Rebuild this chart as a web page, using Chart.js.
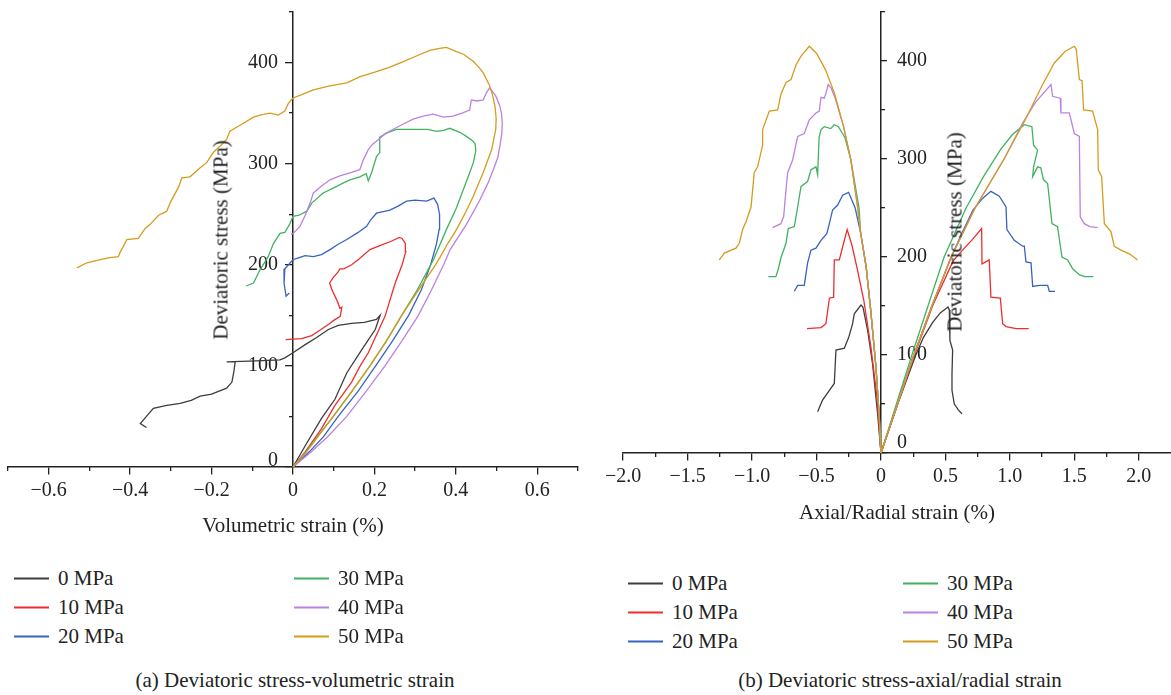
<!DOCTYPE html>
<html>
<head>
<meta charset="utf-8">
<script src="https://cdn.jsdelivr.net/npm/chart.js@4.4.0/dist/chart.umd.min.js"></script>
<style>
  body { margin: 0; background: #fff; font-family: "Liberation Serif", serif; color: #222; }
  #wrap { position: relative; width: 1171px; height: 695px; overflow: hidden; }
  canvas { position: absolute; top: 0; }
  .txt { position: absolute; white-space: nowrap; font-size: 21px; line-height: 1; transform: translate(-50%, -50%); }
  .rot { transform: translate(-50%, -50%) rotate(-90deg); }
  .leg { position: absolute; display: flex; align-items: center; font-size: 21px; line-height: 1; white-space: nowrap; transform: translateY(-50%); }
  .leg .ln { display: inline-block; width: 35px; height: 2px; margin-right: 9px; }
</style>
</head>
<body>
<div id="wrap">
  <canvas id="chartA" width="590" height="540" style="left:0"></canvas>
  <canvas id="chartB" width="571" height="540" style="left:600px"></canvas>

  <div class="txt rot" style="left:221px; top:240px">Deviatoric stress (MPa)</div>
  <div class="txt" style="left:293px; top:525px">Volumetric strain (%)</div>
  <div class="txt" style="left:295px; top:680px">(a) Deviatoric stress-volumetric strain</div>

  <div class="txt rot" style="left:955px; top:232px">Deviatoric stress (MPa)</div>
  <div class="txt" style="left:897px; top:512px">Axial/Radial strain (%)</div>
  <div class="txt" style="left:900px; top:680px">(b) Deviatoric stress-axial/radial strain</div>
</div>
<script>
// series names and colours
const pressures = ['0 MPa', '10 MPa', '20 MPa', '30 MPa', '40 MPa', '50 MPa'];
const colors = ['#3d3d3d', '#ee2e2e', '#3663c3', '#40b260', '#ba82e2', '#d69b1c'];

// tick values / labels
const xTicksA = [-0.6, -0.4, -0.2, 0, 0.2, 0.4, 0.6];
const xTickLabelsA = ['−0.6', '−0.4', '−0.2', '0', '0.2', '0.4', '0.6'];
const xMinorA = [-0.7, -0.5, -0.3, -0.1, 0.1, 0.3, 0.5, 0.7];
const xTicksB = [-2, -1.5, -1, -0.5, 0, 0.5, 1, 1.5, 2];
const xTickLabelsB = ['−2.0', '−1.5', '−1.0', '−0.5', '0', '0.5', '1.0', '1.5', '2.0'];
const xMinorB = [-1.75, -1.25, -0.75, -0.25, 0.25, 0.75, 1.25, 1.75];
const yTicks = [0, 100, 200, 300, 400];
const yTickLabels = ['0', '100', '200', '300', '400'];
const yMinor = [50, 150, 250, 350, 450];

// (a) volumetric strain (%) vs deviatoric stress (MPa)
const vol0 = [[0,0],[0.03,21],[0.07,48],[0.103,67],[0.132,93],[0.169,116],[0.202,136],[0.214,150],
  [0.205,146],[0.175,143],[0.144,142],[0.111,140],[0.087,136],[0.058,128],[0.03,121],[0,113],[-0.02,108],[-0.032,106],[-0.09,105],
  [-0.163,104],[-0.142,104],[-0.145,95],[-0.15,84],[-0.163,78],[-0.2,72],[-0.228,70],[-0.25,66],[-0.277,63],[-0.31,61],[-0.343,58],
  [-0.36,50],[-0.375,43],[-0.36,39]];
const vol10 = [[0,0],[0.03,15],[0.07,38],[0.103,61],[0.144,84],[0.165,100],[0.185,113],[0.226,149],[0.251,182],[0.268,200],
  [0.277,213],[0.276,221],[0.268,226],[0.261,227],[0.24,223],[0.213,219],[0.189,215],[0.16,205],[0.144,200],[0.125,196],[0.115,196],
  [0.111,193],[0.1,188],[0.09,182],[0.095,176],[0.103,169],[0.11,163],[0.115,157],[0.12,158],[0.116,149],[0.1,145],[0.087,141],
  [0.065,135],[0.046,130],[0.021,127],[-0.018,126]];
const vol20 = [[0,0],[0.04,15],[0.075,30],[0.111,50],[0.16,75],[0.203,100],[0.245,125],[0.284,150],[0.315,175],[0.338,200],
  [0.352,220],[0.359,235],[0.36,250],[0.355,260],[0.346,266],[0.328,263],[0.3,264],[0.279,263],[0.258,258],[0.238,254],
  [0.205,251],[0.19,244],[0.181,238],[0.16,232],[0.132,225],[0.11,220],[0.091,215],[0.07,210],[0.05,208],[0.03,209],[0.015,207],
  [0,205],[-0.02,196],[-0.022,188],[-0.022,182],[-0.017,169],[-0.009,172]];
const vol30 = [[0,0],[0.03,14],[0.06,30],[0.099,50],[0.145,75],[0.189,100],[0.23,125],[0.267,150],[0.305,175],[0.345,205],
  [0.377,235],[0.4,255],[0.418,274],[0.433,290],[0.443,301],[0.449,313],[0.447,320],[0.44,323],[0.426,327],[0.41,331],[0.385,335],
  [0.37,333],[0.353,332],[0.33,334],[0.29,334],[0.254,334],[0.228,330],[0.213,326],[0.213,311],[0.205,307],[0.193,291],[0.185,283],
  [0.18,290],[0.164,287],[0.14,284],[0.124,281],[0.1,276],[0.074,271],[0.046,261],[0.034,253],[0.015,249],[0,248],[-0.007,241],
  [-0.02,232],[-0.032,231],[-0.048,221],[-0.061,208],[-0.081,195],[-0.097,182],[-0.115,179]];
const vol40 = [[0,0],[0.045,15],[0.085,30],[0.132,50],[0.18,75],[0.226,100],[0.268,125],[0.308,150],[0.34,175],[0.37,200],
  [0.386,215],[0.426,240],[0.459,264],[0.478,280],[0.492,294],[0.503,306],[0.508,317],[0.513,330],[0.514,340],[0.512,350],[0.508,357],
  [0.498,367],[0.483,375],[0.475,370],[0.467,363],[0.452,362],[0.438,363],[0.434,353],[0.415,350],[0.393,347],[0.37,346],[0.344,349],
  [0.32,347],[0.295,344],[0.27,339],[0.246,334],[0.228,330],[0.213,325],[0.195,319],[0.185,314],[0.173,304],[0.164,294],[0.14,291],
  [0.115,288],[0.091,284],[0.07,278],[0.05,271],[0.042,261],[0.029,248],[0.017,238],[0.008,234],[0,231],[-0.005,230]];
const vol50 = [[0,0],[0.035,16],[0.065,32],[0.099,50],[0.145,75],[0.189,100],[0.23,125],[0.267,150],[0.3,170],[0.325,185],
  [0.35,200],[0.365,210],[0.38,221],[0.402,235],[0.424,252],[0.443,268],[0.467,291],[0.488,314],[0.498,334],[0.499,345],[0.496,357],
  [0.49,368],[0.483,377],[0.467,390],[0.455,396],[0.443,401],[0.42,408],[0.4,411],[0.377,415],[0.36,414],[0.336,412],[0.3,406],
  [0.271,401],[0.235,395],[0.197,390],[0.165,386],[0.132,380],[0.09,377],[0.05,373],[0.02,368],[0,365],[-0.011,360],[-0.02,352],
  [-0.036,348],[-0.056,350],[-0.081,348],[-0.097,346],[-0.126,339],[-0.155,332],[-0.163,324],[-0.18,317],[-0.196,311],[-0.212,301],
  [-0.228,296],[-0.253,287],[-0.273,286],[-0.281,277],[-0.302,261],[-0.31,253],[-0.33,249],[-0.351,240],[-0.363,236],[-0.38,226],
  [-0.408,225],[-0.425,212],[-0.429,208],[-0.45,207],[-0.474,205],[-0.506,202],[-0.531,197]];

// (b) axial strain (%, positive side) vs deviatoric stress
const axial0 = [[0,0],[0.13,50],[0.27,100],[0.33,118],[0.4,133],[0.46,143],[0.52,149],[0.53,146],[0.535,115],[0.556,105],
  [0.551,80],[0.551,64],[0.569,50],[0.6,44],[0.628,40]];
const axial10 = [[0,0],[0.13,50],[0.26,100],[0.4,150],[0.56,196],[0.64,208],[0.71,218],[0.781,229],[0.784,193],[0.84,197],
  [0.853,159],[0.926,158],[0.944,132],[0.97,129],[1.05,127],[1.146,127]];
const axial20 = [[0,0],[0.128,50],[0.255,100],[0.395,150],[0.545,200],[0.63,225],[0.715,248],[0.79,260],[0.853,267],[0.918,262],
  [0.97,251],[0.977,228],[1.034,217],[1.1,211],[1.112,211],[1.125,195],[1.164,194],[1.177,170],[1.23,171],[1.293,171],[1.306,165],[1.35,165]];
const axial30 = [[0,0],[0.12,50],[0.24,100],[0.365,150],[0.49,200],[0.66,250],[0.8,283],[0.93,310],[1.02,325],[1.112,335],
  [1.171,333],[1.184,314],[1.215,309],[1.184,292],[1.177,282],[1.215,292],[1.24,291],[1.26,279],[1.293,275],[1.327,234],[1.37,231],
  [1.404,200],[1.448,197],[1.487,188],[1.539,182],[1.58,180],[1.647,180]];
const axial40 = [[0,0],[0.128,50],[0.255,100],[0.395,150],[0.545,200],[0.73,250],[0.955,300],[1.1,337],[1.2,358],[1.319,376],
  [1.332,364],[1.391,362],[1.396,347],[1.461,347],[1.5,326],[1.539,323],[1.546,241],[1.577,234],[1.62,231],[1.681,230]];
const axial50 = [[0,0],[0.128,50],[0.255,100],[0.395,150],[0.545,200],[0.73,250],[0.955,300],[1.12,340],[1.25,375],[1.345,398],
  [1.43,410],[1.5,415],[1.515,412],[1.539,381],[1.56,380],[1.572,350],[1.642,349],[1.681,330],[1.686,289],[1.712,282],[1.733,234],
  [1.784,226],[1.81,211],[1.862,207],[1.93,203],[1.99,197]];

// (b) radial strain (%, negative side) vs deviatoric stress
const radial0 = [[0,0],[-0.026,40],[-0.065,91],[-0.103,125],[-0.14,149],[-0.155,151],[-0.207,142],[-0.22,132],[-0.25,118],
  [-0.284,107],[-0.349,105],[-0.362,71],[-0.4,64],[-0.453,54],[-0.491,42]];
const radial10 = [[0,0],[-0.031,57],[-0.078,108],[-0.132,155],[-0.184,188],[-0.225,212],[-0.262,228],[-0.29,214],[-0.323,197],
  [-0.362,197],[-0.367,159],[-0.4,158],[-0.427,132],[-0.465,128],[-0.574,127]];
const radial20 = [[0,0],[-0.013,37],[-0.039,88],[-0.079,145],[-0.115,190],[-0.158,225],[-0.2,250],[-0.251,266],
  [-0.297,263],[-0.336,253],[-0.375,248],[-0.419,224],[-0.465,217],[-0.504,209],[-0.543,207],[-0.569,194],[-0.595,171],[-0.646,171],[-0.672,165]];
const radial30 = [[0,0],[-0.013,37],[-0.039,88],[-0.079,145],[-0.115,190],[-0.158,225],[-0.17,250],[-0.235,300],[-0.28,322],
  [-0.33,333],[-0.362,335],[-0.39,331],[-0.44,333],[-0.465,330],[-0.48,322],[-0.491,284],[-0.504,292],[-0.543,289],[-0.569,277],[-0.62,272],
  [-0.646,251],[-0.672,231],[-0.719,229],[-0.737,214],[-0.776,199],[-0.796,188],[-0.815,180],[-0.874,180]];
const radial40 = [[0,0],[-0.013,37],[-0.039,88],[-0.079,145],[-0.115,190],[-0.158,225],[-0.18,250],[-0.235,300],[-0.29,333],
  [-0.355,362],[-0.385,372],[-0.409,376],[-0.427,367],[-0.44,362],[-0.465,363],[-0.478,349],[-0.504,347],[-0.556,340],[-0.595,326],
  [-0.646,323],[-0.685,299],[-0.724,286],[-0.737,268],[-0.755,241],[-0.776,234],[-0.84,230]];
const radial50 = [[0,0],[-0.013,37],[-0.039,88],[-0.079,145],[-0.115,190],[-0.158,225],[-0.18,250],[-0.235,300],[-0.29,333],
  [-0.36,367],[-0.43,391],[-0.5,408],[-0.556,415],[-0.62,405],[-0.659,396],[-0.698,381],[-0.737,378],[-0.776,366],[-0.801,350],
  [-0.866,349],[-0.918,330],[-0.918,314],[-0.957,292],[-0.983,286],[-1.008,251],[-1.047,236],[-1.073,228],[-1.099,214],[-1.125,209],
  [-1.215,204],[-1.254,197]];

const volSeries = [vol0, vol10, vol20, vol30, vol40, vol50];
const axialSeries = [axial0, axial10, axial20, axial30, axial40, axial50];
const radialSeries = [radial0, radial10, radial20, radial30, radial40, radial50];

const axisColor = '#222';
const tickFont = { family: 'Liberation Serif', size: 20 };

function line(points, i) {
    return {
        label: pressures[i],
        data: points.map(p => ({ x: p[0], y: p[1] })),
        borderColor: colors[i],
        borderWidth: 1.3,
        pointRadius: 0,
        showLine: true,
        fill: false,
        order: 5 - i
    };
}

// major axis with labels + a second, label-less axis for the minor ticks
function scalesFor(xRange, xMajor, xLabels, xMinor, yOnRight) {
    const dir = yOnRight ? -1 : 1;
    return {
        x: {
            type: 'linear', min: xRange[0], max: xRange[1], position: { y: 0 },
            afterBuildTicks: s => { s.ticks = xMajor.map(v => ({ value: v })); },
            grid: { drawOnChartArea: false, color: axisColor, tickLength: 7, lineWidth: 1.3 },
            border: { color: axisColor, width: 1.5 },
            ticks: { font: tickFont, color: axisColor, padding: 5, maxRotation: 0, autoSkip: false,
                     callback: (v, i) => xLabels[i] }
        },
        x2: {
            type: 'linear', min: xRange[0], max: xRange[1], position: { y: 0 },
            afterBuildTicks: s => { s.ticks = xMinor.map(v => ({ value: v })); },
            grid: { drawOnChartArea: false, color: axisColor, tickLength: 4, lineWidth: 1.3 },
            border: { display: false },
            ticks: { display: false }
        },
        y: {
            type: 'linear', min: 0, max: 450, position: { x: 0 },
            afterBuildTicks: s => { s.ticks = yTicks.map(v => ({ value: v })); },
            grid: { drawOnChartArea: false, color: axisColor, tickLength: 7 * dir, lineWidth: 1.3 },
            border: { color: axisColor, width: 1.5 },
            ticks: { display: false }
        },
        y2: {
            type: 'linear', min: 0, max: 450, position: { x: 0 },
            afterBuildTicks: s => { s.ticks = yMinor.map(v => ({ value: v })); },
            grid: { drawOnChartArea: false, color: axisColor, tickLength: 4 * dir, lineWidth: 1.3 },
            border: { display: false },
            ticks: { display: false }
        }
    };
}

// y tick labels next to the centred axis (left of it in (a), right of it in (b))
function yLabels(side, gap, zeroLift) {
    return {
        id: 'yLabels',
        beforeDatasetsDraw(chart) {
            const ctx = chart.ctx;
            const x0 = chart.scales.x.getPixelForValue(0);
            ctx.save();
            ctx.font = '20px "Liberation Serif"';
            ctx.fillStyle = axisColor;
            ctx.textAlign = side;
            ctx.textBaseline = 'middle';
            yTicks.forEach((v, i) => {
                const lift = v === 0 ? zeroLift : 0;
                const x = side === 'left' ? x0 + gap : x0 - gap;
                ctx.fillText(yTickLabels[i], x, chart.scales.y.getPixelForValue(v) - lift);
            });
            ctx.restore();
        }
    };
}

const baseOptions = (scales, padding) => ({
    responsive: false,
    animation: false,
    events: [],
    layout: { padding },
    plugins: { legend: { display: false }, tooltip: { enabled: false } },
    scales
});

new Chart(document.getElementById('chartA'), {
    type: 'scatter',
    data: { datasets: volSeries.map(line) },
    options: baseOptions(scalesFor([-0.7, 0.7], xTicksA, xTickLabelsA, xMinorA, false),
                         { left: 8, right: 12, top: 12, bottom: 73 }),
    plugins: [yLabels('right', 15, 6)]
});

new Chart(document.getElementById('chartB'), {
    type: 'scatter',
    data: { datasets: radialSeries.map(line).concat(axialSeries.map(line)) },
    options: baseOptions(scalesFor([-2, 2.25], xTicksB, xTickLabelsB, xMinorB, true),
                         { left: 23, right: 0, top: 12, bottom: 87 }),
    plugins: [yLabels('left', 16, 10)]
});

// legends: two columns, three rows
const wrap = document.getElementById('wrap');
function legend(colX, rowY) {
    pressures.forEach((name, i) => {
        const item = document.createElement('div');
        item.className = 'leg';
        item.style.left = colX[Math.floor(i / 3)] + 'px';
        item.style.top = rowY[i % 3] + 'px';
        item.innerHTML = '<span class="ln" style="background:' + colors[i] + '"></span>' + name;
        wrap.appendChild(item);
    });
}
legend([14, 294], [578, 607, 636]);
legend([628, 903], [583, 612, 641]);
</script>
</body>
</html>
